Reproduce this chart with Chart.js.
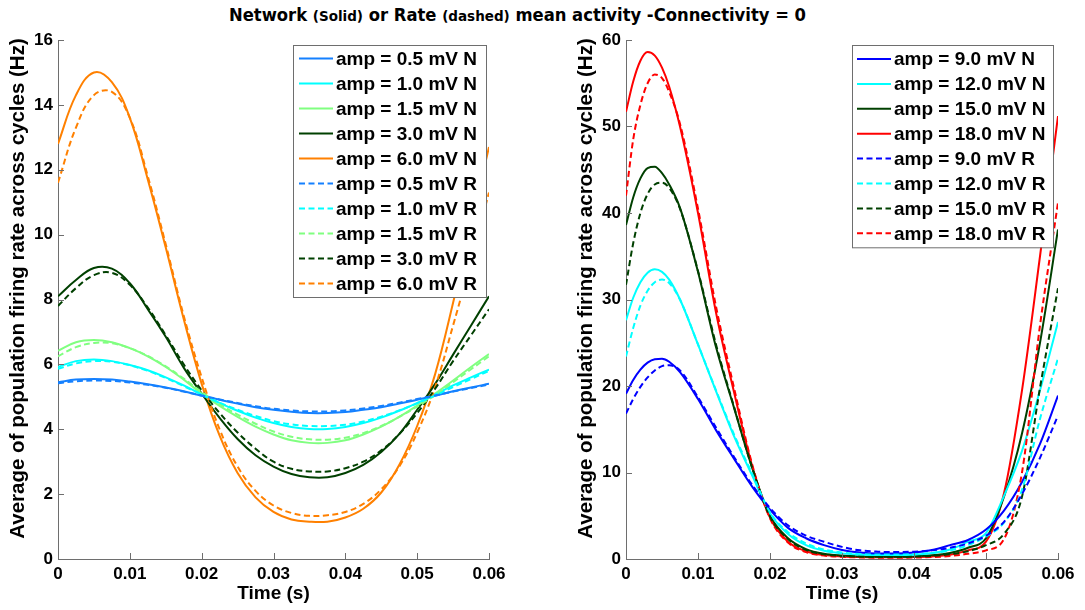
<!DOCTYPE html>
<html><head><meta charset="utf-8">
<script src="https://cdn.jsdelivr.net/npm/chart.js@4.4.1/dist/chart.umd.min.js"></script>
<style>
html,body{margin:0;padding:0;background:#fff;width:1085px;height:610px;overflow:hidden}
canvas{position:absolute;left:0;top:0}
#tt{position:absolute;top:5px;left:0;white-space:nowrap;font-family:"Liberation Sans Narrow","Arial Narrow","DejaVu Sans Condensed","Liberation Sans",sans-serif;font-stretch:condensed;font-weight:bold;font-size:17px;line-height:20px;color:#000;transform-origin:0 50%}
#tt small{font-size:14px}
</style></head><body>
<div id="tt">Network <small>(Solid)</small> or Rate <small>(dashed)</small> mean activity -Connectivity = 0</div>
<canvas id="c1" width="1085" height="610"></canvas>
<canvas id="c2" width="1085" height="610"></canvas>
<script>
// ---------- data ----------
const leftTime = [0,0.0025,0.005,0.0075,0.01,0.0125,0.015,0.0175,0.02,0.0225,0.025,0.0275,0.03,0.0325,0.035,0.0375,0.04,0.0425,0.045,0.0475,0.05,0.0525,0.055,0.0575,0.06];
const rightTime = [0,0.001,0.002,0.003,0.004,0.005,0.006,0.0075,0.01,0.0125,0.015,0.0175,0.02,0.0225,0.025,0.0275,0.03,0.0325,0.035,0.0375,0.04,0.0425,0.045,0.0475,0.05,0.0525,0.055,0.0575,0.06];

const xTickValues = [0,0.01,0.02,0.03,0.04,0.05,0.06];
const xTickLabels = ['0','0.01','0.02','0.03','0.04','0.05','0.06'];
const leftYTicks = [0,2,4,6,8,10,12,14,16];
const rightYTicks = [0,10,20,30,40,50,60];

const leftAmps = ['0.5','1.0','1.5','3.0','6.0'];
const rightAmps = ['9.0','12.0','15.0','18.0'];

// left panel (network N / rate R)
const net05  = [5.45,5.53,5.55,5.53,5.47,5.39,5.29,5.17,5.03,4.91,4.79,4.68,4.60,4.54,4.50,4.50,4.53,4.60,4.68,4.79,4.91,5.03,5.17,5.29,5.40];
const rate05 = [5.42,5.48,5.50,5.49,5.44,5.37,5.28,5.16,5.04,4.92,4.81,4.71,4.63,4.58,4.55,4.55,4.58,4.64,4.72,4.82,4.93,5.04,5.16,5.27,5.38];
const net10  = [5.92,6.10,6.15,6.10,5.98,5.82,5.60,5.35,5.07,4.81,4.57,4.36,4.19,4.07,4.01,4.01,4.07,4.19,4.36,4.57,4.81,5.07,5.35,5.60,5.84];
const rate10 = [5.86,6.03,6.10,6.08,5.97,5.80,5.58,5.33,5.07,4.82,4.60,4.41,4.25,4.15,4.10,4.10,4.14,4.24,4.39,4.58,4.80,5.04,5.30,5.55,5.80];
const net15  = [6.42,6.68,6.75,6.68,6.50,6.25,5.92,5.53,5.10,4.72,4.38,4.08,3.84,3.66,3.58,3.58,3.66,3.84,4.08,4.38,4.73,5.10,5.50,5.92,6.32];
const rate15 = [6.25,6.53,6.66,6.65,6.50,6.26,5.94,5.56,5.15,4.78,4.45,4.17,3.93,3.77,3.69,3.68,3.74,3.88,4.10,4.38,4.70,5.05,5.45,5.85,6.25];
const net30  = [8.10,8.60,8.97,8.95,8.50,7.70,6.85,5.90,5.10,4.35,3.70,3.20,2.85,2.62,2.52,2.52,2.65,2.90,3.30,3.85,4.60,5.40,6.30,7.20,8.10];
const rate30 = [7.80,8.35,8.75,8.82,8.45,7.75,6.90,6.00,5.20,4.50,3.90,3.40,3.00,2.78,2.70,2.70,2.80,3.00,3.35,3.85,4.50,5.25,6.10,6.90,7.70];
const net60  = [12.8,14.3,15.0,14.7,13.6,11.7,9.6,7.4,5.4,3.8,2.65,1.9,1.45,1.22,1.15,1.15,1.28,1.55,2.05,2.9,4.1,5.7,7.9,10.3,12.7];
const rate60 = [11.6,13.3,14.3,14.4,13.6,11.8,9.7,7.5,5.6,4.0,2.85,2.1,1.65,1.42,1.33,1.35,1.45,1.7,2.15,2.85,3.9,5.3,7.2,9.2,11.3];

// right panel
const net09  = [19.1,20.7,21.9,22.7,23.1,23.15,22.8,21.6,18.5,14.9,11.6,8.4,5.7,3.6,2.4,1.6,1.05,0.75,0.65,0.65,0.75,1.05,1.6,2.2,3.4,5.6,8.9,13.3,18.9];
const rate09 = [16.8,18.5,19.9,21.0,21.8,22.3,22.4,21.8,18.7,15.2,11.8,8.6,5.9,3.9,2.7,2.0,1.4,1.0,0.85,0.8,0.85,1.0,1.3,1.8,2.7,4.3,7.5,11.7,16.6];
const net12  = [27.6,30.2,32.0,33.1,33.5,33.2,32.3,30.0,24.8,19.4,14.2,9.7,5.3,2.9,1.6,0.95,0.65,0.5,0.45,0.45,0.5,0.7,1.1,2.0,3.0,7.3,12.5,19.5,27.4];
const rate12 = [23.4,26.7,29.3,31.0,32.0,32.3,31.9,30.0,24.8,19.5,14.4,9.9,5.4,3.1,1.8,1.1,0.75,0.58,0.52,0.52,0.56,0.7,1.0,1.6,2.6,4.2,8.0,16.2,23.2];
const net150  = [38.6,41.8,44.0,45.2,45.35,44.6,43.3,40.6,33.2,24.5,17.5,10.6,5.0,2.4,1.15,0.6,0.4,0.3,0.27,0.27,0.3,0.42,0.7,1.3,2.4,7.2,14.5,25.0,38.1];
const rate150 = [31.7,36.5,40.0,42.2,43.3,43.5,42.9,40.5,33.3,24.8,17.6,10.6,4.9,2.3,1.05,0.55,0.35,0.27,0.23,0.23,0.27,0.35,0.55,0.9,1.6,2.9,7.2,19.8,31.3];
const net18  = [51.7,55.2,57.6,58.6,58.2,56.8,54.6,50.0,40.0,28.5,19.3,10.8,4.8,2.0,0.9,0.45,0.3,0.22,0.2,0.2,0.22,0.3,0.5,1.0,2.0,7.6,19.5,35.0,51.2];
const rate18 = [42.0,48.5,52.5,55.0,56.0,55.6,54.0,50.3,40.5,29.2,19.8,11.0,4.7,1.9,0.8,0.4,0.25,0.18,0.15,0.15,0.17,0.22,0.35,0.6,1.0,2.3,10.0,27.0,41.2];

// ---------- styles ----------
const leftColors = ['rgb(20,128,255)','#00ffff','#80ff80','#004000','#ff8000'];
const rightColors = ['#0000ff','#00ffff','#004000','#ff0000'];
const axisColor = '#6e6e6e';
const DASH = [6,3.5];
const FONT = '"Liberation Sans", Arial, sans-serif';
const yTitleText = 'Average of population firing rate across cycles (Hz)';

Chart.defaults.font.family = FONT;
Chart.defaults.font.weight = 'bold';
Chart.defaults.color = '#000';

function pts(t, v){ return t.map((x,i)=>({x:x,y:v[i]})); }

function makeSets(time, amps, colors, nets, rates, curve){
  const sets = [];
  const c = curve === 'smooth' ? {tension:0.4, cubicInterpolationMode:'default'} : {cubicInterpolationMode:'monotone'};
  amps.forEach((a,i)=>sets.push(Object.assign({label:'amp = '+a+' mV N', data:pts(time,nets[i]), borderColor:colors[i], borderWidth:2, pointRadius:0, fill:false, order:2, dashed:false}, c)));
  amps.forEach((a,i)=>sets.push(Object.assign({label:'amp = '+a+' mV R', data:pts(time,rates[i]), borderColor:colors[i], borderWidth:2, borderDash:DASH, pointRadius:0, fill:false, order:1, dashed:true}, c)));
  return sets;
}

const inwardTicks = {
  id:'inwardTicks',
  afterDraw(chart){
    const {ctx, chartArea:a, scales:{x,y}} = chart;
    ctx.save();
    ctx.strokeStyle = axisColor; ctx.lineWidth = 1; ctx.setLineDash([]);
    ctx.beginPath();
    x.ticks.forEach(t=>{ const px = Math.round(x.getPixelForValue(t.value))+0.5; ctx.moveTo(px,a.bottom); ctx.lineTo(px,a.bottom-6); });
    y.ticks.forEach(t=>{ const py = Math.round(y.getPixelForValue(t.value))+0.5; ctx.moveTo(a.left,py); ctx.lineTo(a.left+6,py); });
    ctx.stroke();
    // y-axis title
    const yS = chart.scales.y;
    ctx.translate(yS.left + 18.5, (a.top + a.bottom)/2 - 11);
    ctx.rotate(-Math.PI/2);
    ctx.font = 'bold 20.5px ' + FONT;
    ctx.fillStyle = '#000'; ctx.textAlign = 'center'; ctx.textBaseline = 'middle';
    ctx.fillText(yTitleText, 0, 0);
    ctx.restore();
  }
};

const boxLegend = {
  id:'boxLegend',
  afterDraw(chart, args, o){
    const ctx = chart.ctx;
    const sets = chart.data.datasets;
    const h = o.first*2 + o.row*(sets.length-1);
    ctx.save();
    ctx.fillStyle = '#fff';
    ctx.fillRect(o.left, o.top, o.width, h);
    ctx.strokeStyle = axisColor; ctx.lineWidth = 1; ctx.setLineDash([]);
    ctx.strokeRect(Math.round(o.left)+0.5, Math.round(o.top)+0.5, o.width, h);
    ctx.font = 'bold 19px ' + FONT;
    ctx.textBaseline = 'middle'; ctx.textAlign = 'left';
    sets.forEach((d,i)=>{
      const yy = o.top + o.first + o.row*i;
      ctx.strokeStyle = d.borderColor; ctx.lineWidth = 2;
      ctx.setLineDash(d.dashed ? DASH : []);
      ctx.beginPath(); ctx.moveTo(o.left+o.lineX0, yy); ctx.lineTo(o.left+o.lineX1, yy); ctx.stroke();
      ctx.setLineDash([]);
      ctx.fillStyle = '#000';
      ctx.fillText(d.label, o.left+o.textX, yy+1);
    });
    ctx.restore();
  }
};

function makeChart(id, time, amps, colors, nets, rates, curve, yTicks, yMax, pad, legend){
  return new Chart(document.getElementById(id), {
    type:'line',
    data:{ datasets: makeSets(time, amps, colors, nets, rates, curve) },
    plugins:[inwardTicks, boxLegend],
    options:{
      responsive:false, animation:false, devicePixelRatio:1,
      layout:{ padding: pad },
      plugins:{ legend:{display:false}, tooltip:{enabled:false}, title:{display:false}, boxLegend: legend },
      scales:{
        x:{ type:'linear', min:0, max:0.06,
            afterBuildTicks:s=>{ s.ticks = xTickValues.map(v=>({value:v})); },
            afterFit:s=>{ s.height = 51; },
            ticks:{ callback:(v,i)=>xTickLabels[i], font:{size:17,weight:'bold'}, color:'#000', padding:5, maxRotation:0, autoSkip:false },
            grid:{ display:false, drawTicks:false, tickLength:0 },
            border:{ display:true, color:axisColor, width:1 },
            title:{ display:true, text:'Time (s)', font:{size:19,weight:'bold'}, color:'#000', padding:{top:0,bottom:5} } },
        y:{ type:'linear', min:0, max:yMax,
            afterBuildTicks:s=>{ s.ticks = yTicks.map(v=>({value:v})); },
            afterFit:s=>{ s.width = 58; },
            ticks:{ callback:(v)=>String(v), font:{size:17,weight:'bold'}, color:'#000', padding:5 },
            grid:{ display:false, drawTicks:false, tickLength:0 },
            border:{ display:true, color:axisColor, width:1 },
            title:{ display:false } }
      }
    }
  });
}

makeChart('c1', leftTime, leftAmps, leftColors,
  [net05,net10,net15,net30,net60], [rate05,rate10,rate15,rate30,rate60], 'smooth',
  leftYTicks, 16, {left:0, top:40, right:596, bottom:0},
  {left:293, top:45, width:193, first:13.5, row:25, lineX0:6, lineX1:40, textX:43});

makeChart('c2', rightTime, rightAmps, rightColors,
  [net09,net12,net150,net18], [rate09,rate12,rate150,rate18], 'monotone',
  rightYTicks, 60, {left:568, top:40, right:27, bottom:0},
  {left:852, top:45, width:201, first:14, row:24.9, lineX0:5, lineX1:39, textX:42});

// title: fit to reference width, centred
const tt = document.getElementById('tt');
const w = tt.getBoundingClientRect().width;
const sx = 577 / w;
tt.style.transform = 'scaleX(' + sx + ')';
tt.style.left = (517.5 - 577/2) + 'px';
</script>
</body></html>
